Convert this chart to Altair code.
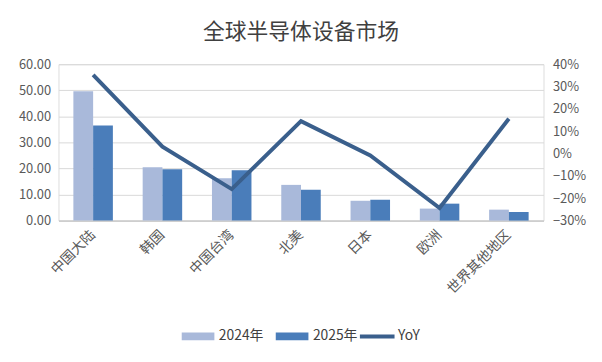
import altair as alt
import pandas as pd

categories = ["中国大陆", "韩国", "中国台湾", "北美", "日本", "欧洲", "世界其他地区"]
v2024 = [49.6, 20.5, 16.2, 13.7, 7.6, 4.6, 4.2]
v2025 = [36.5, 19.7, 19.3, 11.8, 8.0, 6.5, 3.3]
yoy = [0.352, 0.031, -0.159, 0.145, -0.008, -0.244, 0.156]
years = ["2024年", "2025年"]
left_ticks = [0, 10, 20, 30, 40, 50, 60]
right_ticks = [-0.3, -0.2, -0.1, 0.0, 0.1, 0.2, 0.3, 0.4]

FONT = "Noto Sans CJK SC"
TXT = "#595959"

bars_df = pd.DataFrame(
    [{"cat": c, "year": years[0], "v": a} for c, a in zip(categories, v2024)]
    + [{"cat": c, "year": years[1], "v": b} for c, b in zip(categories, v2025)]
)
line_df = pd.DataFrame({"cat": categories, "yoy": yoy, "s": ["YoY"] * len(categories)})

xscale = alt.Scale(paddingInner=0.43, paddingOuter=0.215)
xaxis = alt.Axis(title=None, labelAngle=-45, labelAlign="right", labelBaseline="middle",
                 labelFontSize=14, labelColor=TXT, labelFont=FONT, ticks=False,
                 domainColor="#BFBFBF", labelPadding=12)

bars = alt.Chart(bars_df).mark_bar().encode(
    x=alt.X("cat:N", sort=categories, scale=xscale, axis=xaxis),
    xOffset=alt.XOffset("year:N", sort=years, scale=alt.Scale(paddingInner=0, paddingOuter=0)),
    y=alt.Y("v:Q", scale=alt.Scale(domain=[0, 60], nice=False),
            axis=alt.Axis(title=None, values=left_ticks, format=".2f", grid=True,
                          gridColor="#D9D9D9", domain=False, ticks=False,
                          labelFontSize=13, labelColor=TXT, labelFont=FONT, labelPadding=8)),
    color=alt.Color("year:N", sort=years,
                    scale=alt.Scale(domain=years, range=["#A9B9DA", "#4A7DBA"]),
                    legend=alt.Legend(title=None, orient="none", legendX=125, legendY=265,
                                      direction="horizontal",
                                      symbolType="M-1.65,-0.4H1.65V0.4H-1.65Z",
                                      symbolSize=400, symbolStrokeWidth=0,
                                      symbolOffset=6, labelOffset=11,
                                      labelFontSize=14, labelColor="#404040", labelFont=FONT,
                                      columnPadding=11)),
)

line = alt.Chart(line_df).mark_line(strokeWidth=4).encode(
    x=alt.X("cat:N", sort=categories, scale=xscale, axis=xaxis),
    y=alt.Y("yoy:Q", scale=alt.Scale(domain=[-0.3, 0.4], nice=False),
            axis=alt.Axis(title=None, values=right_ticks, format=".0%", grid=False,
                          orient="right", domain=False, ticks=False,
                          labelFontSize=13, labelColor=TXT, labelFont=FONT, labelPadding=9)),
    stroke=alt.Stroke("s:N", scale=alt.Scale(domain=["YoY"], range=["#3A5F8C"]),
                      legend=alt.Legend(title=None, orient="none", legendX=304, legendY=263,
                                        direction="horizontal",
                                        symbolType="M-1.75,0H1.75", symbolSize=400,
                                        symbolStrokeWidth=4, symbolOffset=6, labelOffset=9,
                                        labelFontSize=14, labelColor="#404040", labelFont=FONT)),
)

chart = alt.layer(bars, line).resolve_scale(
    y="independent", color="independent", stroke="independent"
).properties(
    width=490, height=158,
    title=alt.Title("全球半导体设备市场", fontSize=22, font=FONT, fontWeight="normal",
                    color="#404040", anchor="middle", offset=14),
    padding={"left": 10, "top": 12, "right": 8, "bottom": 8},
).configure_view(stroke=None).configure(background="white")

chart.save("out.html", embed_options={"renderer": "svg", "actions": False})
